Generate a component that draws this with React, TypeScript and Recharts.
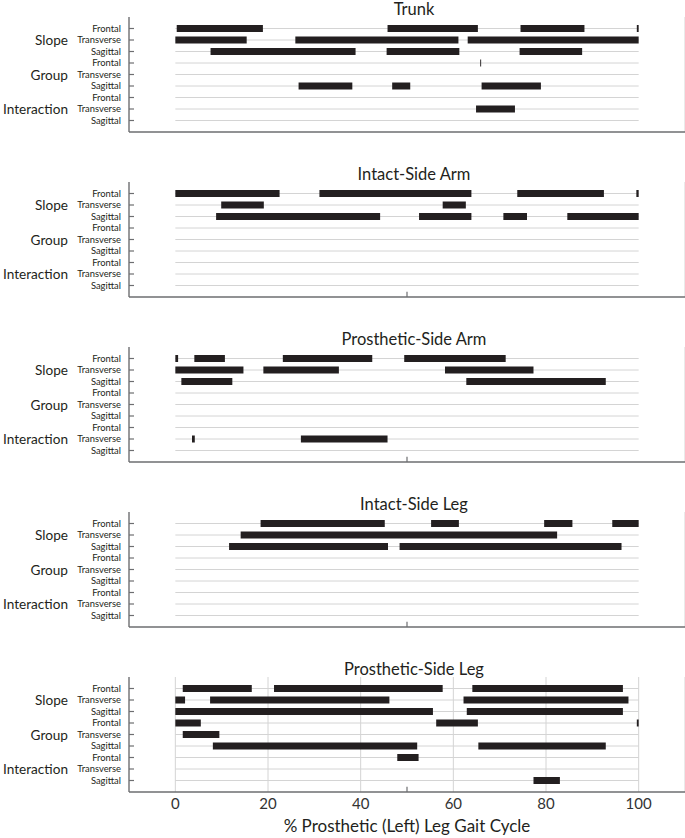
import React from 'react';
import { ComposedChart, Line, XAxis, YAxis, CartesianGrid, ReferenceLine } from 'recharts';

// significant regions (% gait cycle) per row, rows top to bottom
type Seg = [number, number];

const rowNames = ['Frontal', 'Transverse', 'Sagittal', 'Frontal', 'Transverse', 'Sagittal', 'Frontal', 'Transverse', 'Sagittal'];
const groupNames = ['Slope', 'Group', 'Interaction'];
const xTicks = [0, 20, 40, 60, 80, 100];

const trunk: Seg[][] = [
  [[0.3, 18.9], [45.8, 65.3], [74.5, 88.3], [99.6, 100]],
  [[0, 15.4], [25.9, 61.1], [63.1, 100]],
  [[7.6, 38.9], [45.6, 61.3], [74.3, 87.8]],
  [[65.8, 66.0]],
  [],
  [[26.6, 38.2], [46.8, 50.7], [66.1, 78.9]],
  [],
  [[64.9, 73.3]],
  [],
];

const intactArm: Seg[][] = [
  [[0, 22.5], [31.1, 63.9], [73.8, 92.5], [99.5, 100]],
  [[9.9, 19.1], [57.7, 62.7]],
  [[8.8, 44.2], [52.6, 63.9], [70.8, 75.9], [84.6, 100]],
  [], [], [], [], [], [],
];

const prostheticArm: Seg[][] = [
  [[0, 0.6], [4.1, 10.7], [23.2, 42.5], [49.4, 71.3]],
  [[0, 14.7], [19.0, 35.3], [58.2, 77.3]],
  [[1.3, 12.3], [62.8, 92.9]],
  [], [], [], [],
  [[3.6, 4.2], [27.1, 45.8]],
  [],
];

const intactLeg: Seg[][] = [
  [[18.4, 45.2], [55.2, 61.2], [79.6, 85.7], [94.3, 100]],
  [[14.1, 82.4]],
  [[11.6, 45.9], [48.4, 96.3]],
  [], [], [], [], [], [],
];

const prostheticLeg: Seg[][] = [
  [[1.6, 16.5], [21.3, 57.7], [64.1, 96.6]],
  [[0, 2.1], [7.5, 46.2], [62.2, 97.8]],
  [[0, 55.6], [62.9, 96.6]],
  [[0, 5.5], [56.3, 65.3], [99.6, 100]],
  [[1.6, 9.5]],
  [[8.1, 52.2], [65.4, 92.9]],
  [[47.9, 52.5]],
  [],
  [[77.3, 83.0]],
];

const panels = [
  { title: 'Trunk', rows: trunk },
  { title: 'Intact-Side Arm', rows: intactArm },
  { title: 'Prosthetic-Side Arm', rows: prostheticArm },
  { title: 'Intact-Side Leg', rows: intactLeg },
  { title: 'Prosthetic-Side Leg', rows: prostheticLeg },
];

const FONT = 'Lato, "Open Sans", sans-serif';
const INK = '#231f20';
const AXIS = '#6d6e71';
const GRID = '#d4d4d4';

function RowTick(props: any) {
  const { x, y, payload } = props;
  const idx = payload.value - 1;
  return (
    <g>
      <text x={x - 3} y={y} dy={3.2} textAnchor="end" fontSize={9.4} fill={INK} fontFamily={FONT}>
        {rowNames[idx]}
      </text>
      <line x1={x + 5} x2={x + 10} y1={y} y2={y} stroke={AXIS} strokeWidth={1.2} />
      {idx % 3 === 1 && (
        <text x={x - 56} y={y} dy={5} textAnchor="end" fontSize={13.6} fill={INK} fontFamily={FONT}>
          {groupNames[(idx - 1) / 3]}
        </text>
      )}
    </g>
  );
}

function Panel({ title, rows, last, index }: { title: string; rows: Seg[][]; last: boolean; index: number }) {
  const height = last ? 179 : 165;
  return (
    <div style={{ position: 'relative', width: 685, height }}>
      <div
        style={{
          position: 'absolute', left: 264, width: 300, top: 0, textAlign: 'center',
          fontFamily: FONT, fontSize: 16.5, lineHeight: '18px', color: INK,
        }}
      >
        {title}
      </div>
      <ComposedChart width={685} height={height} margin={{ top: 17, right: 0, left: 0, bottom: 0 }}>
        <CartesianGrid horizontal={false} stroke={GRID} />
        <XAxis
          type="number"
          dataKey="x"
          domain={[-10, 110]}
          ticks={xTicks}
          interval={0}
          allowDataOverflow
          height={height - 132}
          axisLine={{ stroke: AXIS, strokeWidth: 1.3 }}
          tickLine={false}
          tick={last ? { fontSize: 15, fill: '#333', fontFamily: FONT } : false}
          tickSize={0}
          tickMargin={6}
          label={last ? { value: '% Prosthetic (Left) Leg Gait Cycle', position: 'insideBottom', offset: 7, fontSize: 17, fill: INK, fontFamily: FONT } : undefined}
        />
        <YAxis
          type="number"
          dataKey="y"
          domain={[0, 10]}
          reversed
          ticks={[1, 2, 3, 4, 5, 6, 7, 8, 9]}
          interval={0}
          width={129}
          allowDataOverflow
          axisLine={{ stroke: AXIS, strokeWidth: 1.3 }}
          tickLine={false}
          tickSize={0}
          tickMargin={5}
          tick={<RowTick />}
        />
        {rowNames.map((_, i) => (
          <ReferenceLine
            key={'g' + i}
            segment={[{ x: 0, y: i + 1 }, { x: 100, y: i + 1 }]}
            stroke={GRID}
            strokeWidth={1}
            ifOverflow="visible"
          />
        ))}
        {index > 0 && (
          <ReferenceLine segment={[{ x: 50, y: 10 }, { x: 50, y: 9.55 }]} stroke={AXIS} strokeWidth={1.2} ifOverflow="visible" />
        )}
        {rows.flatMap((segs, r) =>
          segs.map((s, k) => (
            <Line
              key={`s${r}-${k}`}
              data={[{ x: s[0], y: r + 1 }, { x: s[1], y: r + 1 }]}
              dataKey="y"
              type="linear"
              stroke={INK}
              strokeWidth={7}
              strokeLinecap="butt"
              dot={false}
              activeDot={false}
              legendType="none"
              isAnimationActive={false}
            />
          ))
        )}
      </ComposedChart>
    </div>
  );
}

export default function App() {
  return (
    <div style={{ position: 'absolute', left: 0, top: 0, width: 685, height: 838, background: '#fff' }}>
      {panels.map((p, i) => (
        <Panel key={p.title} title={p.title} rows={p.rows} last={i === panels.length - 1} index={i} />
      ))}
    </div>
  );
}
